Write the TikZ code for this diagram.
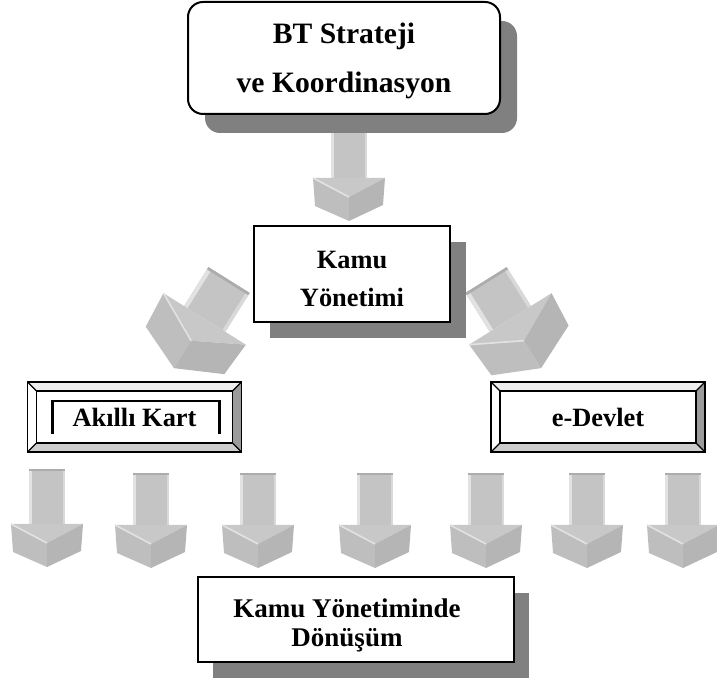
\documentclass[tikz,border=0pt]{standalone}
\usepackage{fontspec}
\setmainfont{Liberation Serif}
\usetikzlibrary{shadows, calc}
\definecolor{shadowgray}{RGB}{128,128,128}
\definecolor{shaftgray}{RGB}{196,196,196}
\definecolor{shaftlight}{RGB}{226,226,226}
\definecolor{shaftedge}{RGB}{172,172,172}
\definecolor{headtop}{RGB}{200,200,200}
\definecolor{headleft}{RGB}{190,190,190}
\definecolor{headright}{RGB}{181,181,181}
\definecolor{beveltop}{RGB}{238,238,238}
\definecolor{bevelright}{RGB}{155,155,155}
\definecolor{bevelbottom}{RGB}{205,205,205}

\begin{document}
\begin{tikzpicture}[
  x=0.5pt, y=-0.5pt,
  card/.style={rectangle, draw, line width=1pt, fill=white, inner sep=0pt, outer sep=0pt},
  castshadow/.style n args={2}{drop shadow={shadow xshift=#1, shadow yshift=#2, fill=shadowgray, opacity=1}},
  frame/.style={rectangle, draw, line width=0.8pt, fill=white, inner sep=0pt, outer sep=0pt,
    minimum width=107pt, minimum height=35pt, font=\fontsize{13.2}{16}\selectfont\bfseries},
  boxtext/.style={align=center, inner sep=0pt, font=\fontsize{13.2}{19}\selectfont\bfseries},
  pics/blockarrow/.style={code={
    \fill[shaftgray] (-18,0) rectangle (18,#1);
    \fill[shaftlight] (-18,0) rectangle (-15,#1);
    \fill[shaftlight!70!shaftgray] (15.5,0) rectangle (18,#1);
    \fill[shaftedge] (-18,0) rectangle (18,2);
    \fill[headtop] (-36,#1) -- (36,#1) -- (0,#1+19) -- cycle;
    \fill[headleft] (-36,#1) -- (0,#1+19) -- (0,#1+43) -- (-34,#1+28) -- cycle;
    \fill[headright] (36,#1) -- (0,#1+19) -- (0,#1+43) -- (34,#1+27) -- cycle;
    \draw[shaftlight, line width=0.8pt] (-36,#1) -- (0,#1+19);
  }},
]
\useasboundingbox (0,0) rectangle (717,683);

% Oklar
\pic at (349,129) {blockarrow=49};
\pic[rotate=-32, scale=1.35] at (229,280) {blockarrow=34};
\pic[rotate=32, scale=1.35] at (486,280) {blockarrow=34};
\foreach \x/\y/\len in {47/469/55, 151/473/52, 258/473/52, 375/473/52, 486/473/52, 587/473/52, 683/473/52}
  \pic at (\x,\y) {blockarrow=\len};

% BT Strateji
\node[card, rounded corners=7.5pt, minimum width=156pt, minimum height=56pt, castshadow={8.5pt}{-9.5pt}] (bt) at (344,58) {};
\node[boxtext, font=\fontsize{14.8}{24.5}\selectfont\bfseries] (bttext) at (bt.center) [yshift=-1.5pt] {BT Strateji\\ve Koordinasyon};

% Kamu Yonetimi
\node[card, minimum width=98pt, minimum height=48pt, castshadow={8pt}{-8pt}] (kamu) at (352,274) {};
\node[boxtext] (kamutext) at (352,279) {Kamu\\Yönetimi};

% Akilli Kart / e-Devlet
\node[frame] (akilli) at (134.5,417) {Akıllı Kart};
\node[frame] (edevlet) at (598,417) {e-Devlet};
\foreach \n in {akilli, edevlet} {
  \fill[beveltop] (\n.north west) -- (\n.north east) -- ([shift={(-9,9)}]\n.north east) -- ([shift={(9,9)}]\n.north west) -- cycle;
  \fill[bevelright] (\n.north east) -- (\n.south east) -- ([shift={(-9,-9)}]\n.south east) -- ([shift={(-9,9)}]\n.north east) -- cycle;
  \fill[bevelbottom] (\n.south west) -- (\n.south east) -- ([shift={(-9,-9)}]\n.south east) -- ([shift={(9,-9)}]\n.south west) -- cycle;
  \draw[line width=0.6pt] (\n.north west) -- ([shift={(9,9)}]\n.north west)
    (\n.north east) -- ([shift={(-9,9)}]\n.north east)
    (\n.south east) -- ([shift={(-9,-9)}]\n.south east)
    (\n.south west) -- ([shift={(9,-9)}]\n.south west);
  \draw[line width=0.8pt] ([shift={(9,9)}]\n.north west) rectangle ([shift={(-9,-9)}]\n.south east);
  \draw[line width=0.8pt] (\n.north west) rectangle (\n.south east);
}
\draw[line width=1.2pt] ([shift={(25,52)}]akilli.north west) -- ([shift={(25,19)}]akilli.north west)
  -- ([shift={(-22,19)}]akilli.north east) -- ([shift={(-22,52)}]akilli.north east);

% Kamu Yonetiminde Donusum
\node[card, minimum width=158pt, minimum height=42.5pt, castshadow={7.5pt}{-8pt}] (donusum) at (356,619.5) {};
\node[boxtext, font=\fontsize{13.5}{14.5}\selectfont\bfseries] (donusumtext) at (347,625) {Kamu Yönetiminde\\Dönüşüm};

\end{tikzpicture}
\end{document}
